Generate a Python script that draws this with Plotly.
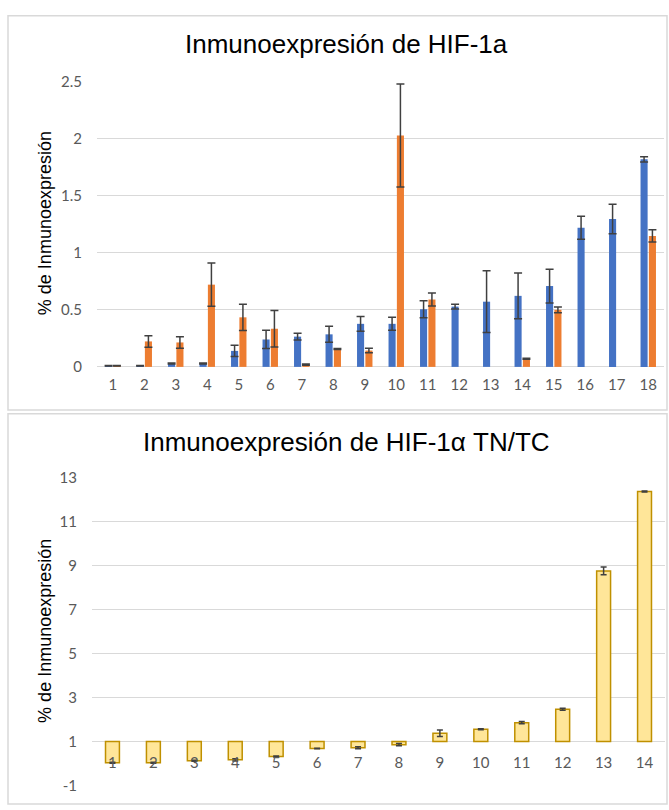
import plotly.graph_objects as go

W, H = 669, 810

# ---------------- data ----------------
cats_top = ["1", "2", "3", "4", "5", "6", "7", "8", "9", "10", "11", "12", "13", "14", "15", "16", "17", "18"]
blue_vals = [0.01, 0.01, 0.03, 0.03, 0.14, 0.24, 0.265, 0.285, 0.377, 0.377, 0.505, 0.528, 0.571, 0.622, 0.708, 1.218, 1.295, 1.818]
blue_err = [0.003, 0.003, 0.005, 0.005, 0.05, 0.08, 0.03, 0.07, 0.065, 0.057, 0.075, 0.02, 0.27, 0.2, 0.148, 0.1, 0.13, 0.023]
orange_vals = [0.01, 0.223, 0.214, 0.72, 0.434, 0.334, 0.02, 0.157, 0.143, 2.026, 0.59, None, None, 0.071, 0.5, None, None, 1.147]
orange_err = [0.003, 0.05, 0.05, 0.19, 0.115, 0.16, 0.005, 0.005, 0.02, 0.45, 0.057, None, None, 0.005, 0.025, None, None, 0.054]

cats_bot = ["1", "2", "3", "4", "5", "6", "7", "8", "9", "10", "11", "12", "13", "14"]
tn_tc_vals = [0.03, 0.03, 0.12, 0.16, 0.31, 0.68, 0.71, 0.85, 1.37, 1.55, 1.85, 2.46, 8.75, 12.36]
tn_tc_err = [0.02, 0.02, 0.02, 0.05, 0.02, 0.01, 0.05, 0.05, 0.15, 0.02, 0.05, 0.05, 0.18, 0.02]
bot_baseline = 1

title_top = "Inmunoexpresión de HIF-1a"
title_bot = "Inmunoexpresión de HIF-1α TN/TC"
y_title = "% de Inmunoexpresión"
top_ticks = [0, 0.5, 1, 1.5, 2, 2.5]
top_ticktext = ["0", "0.5", "1", "1.5", "2", "2.5"]
bot_ticks = [-1, 1, 3, 5, 7, 9, 11, 13]
bot_ticktext = ["-1", "1", "3", "5", "7", "9", "11", "13"]

# ---------------- helpers ----------------
def px_x(x):
    return x / W

def px_y(y):
    return 1 - y / H

TICK_FONT = dict(family="Lato, Open Sans, sans-serif", size=15, color="#595959")
GRID = "#D9D9D9"
ERR_COLOR = "#404040"

top_dom_y = [px_y(365), px_y(73)]
top_dom_x = [px_x(97), px_x(664)]
bot_dom_y = [px_y(793), px_y(478)]
bot_dom_x = [px_x(92), px_x(665)]
bot_range = [-1, 13]

fig = go.Figure()

fig.add_trace(go.Bar(
    x=cats_top, y=blue_vals, marker=dict(color="#4472C4", line=dict(width=0)),
    error_y=dict(type="data", array=blue_err, color=ERR_COLOR, thickness=1.5, width=4),
    xaxis="x", yaxis="y", name="A", showlegend=False,
))
fig.add_trace(go.Bar(
    x=cats_top, y=orange_vals, marker=dict(color="#ED7D31", line=dict(width=0)),
    error_y=dict(type="data", array=orange_err, color=ERR_COLOR, thickness=1.5, width=4),
    xaxis="x", yaxis="y", name="B", showlegend=False,
))

fig.add_trace(go.Bar(
    x=cats_bot, y=[v - bot_baseline for v in tn_tc_vals], base=bot_baseline,
    width=0.34,
    marker=dict(color="#FFE699", line=dict(color="#BF9000", width=1.5)),
    error_y=dict(type="data", array=tn_tc_err, color=ERR_COLOR, thickness=1.5, width=3),
    xaxis="x2", yaxis="y2", showlegend=False,
))

# x-axis position of the bottom chart (crosses at y = 1)
bot_axis_pos = bot_dom_y[0] + (bot_baseline - bot_range[0]) / (bot_range[1] - bot_range[0]) * (bot_dom_y[1] - bot_dom_y[0])

fig.update_layout(
    width=W, height=H,
    margin=dict(l=0, r=0, t=0, b=0),
    paper_bgcolor="white", plot_bgcolor="white",
    barmode="group", bargap=0.47, bargroupgap=0.15,
    xaxis=dict(domain=top_dom_x, anchor="y", type="category", showgrid=False, showline=False,
               zeroline=False, ticks="", tickfont=TICK_FONT, ticklabelstandoff=7),
    yaxis=dict(domain=top_dom_y, anchor="x", range=[0, 2.5], tickvals=top_ticks, ticktext=top_ticktext,
               showgrid=True, gridcolor=GRID, gridwidth=1.2, zeroline=True, zerolinecolor=GRID,
               zerolinewidth=1.2, showline=False, ticks="", tickfont=TICK_FONT, ticklabelstandoff=14),
    xaxis2=dict(domain=bot_dom_x, anchor="free", position=bot_axis_pos, type="category",
                showgrid=False, showline=False, zeroline=False, ticks="", tickfont=TICK_FONT,
                ticklabelstandoff=11),
    yaxis2=dict(domain=bot_dom_y, anchor="x2", range=bot_range, tickvals=bot_ticks, ticktext=bot_ticktext,
                showgrid=True, gridcolor=GRID, gridwidth=1.2, zeroline=False, showline=False,
                ticks="", tickfont=TICK_FONT, ticklabelstandoff=14),
    font=dict(family="Liberation Sans, Arial, sans-serif"),
)

annotations = [
    dict(text=title_top, x=px_x(346), y=px_y(35), xref="paper", yref="paper", showarrow=False,
         font=dict(family="Liberation Sans, Arial, sans-serif", size=26, color="#000000"),
         xanchor="center", yanchor="middle"),
    dict(text=title_bot, x=px_x(346), y=px_y(442), xref="paper", yref="paper", showarrow=False,
         font=dict(family="Liberation Sans, Arial, sans-serif", size=26, color="#000000"),
         xanchor="center", yanchor="middle"),
    dict(text=y_title, x=px_x(45), y=px_y(218), xref="paper", yref="paper", showarrow=False,
         textangle=-90, font=dict(family="Liberation Sans, Arial, sans-serif", size=18, color="#000000"),
         xanchor="center", yanchor="middle"),
    dict(text=y_title, x=px_x(45), y=px_y(635), xref="paper", yref="paper", showarrow=False,
         textangle=-90, font=dict(family="Liberation Sans, Arial, sans-serif", size=18, color="#000000"),
         xanchor="center", yanchor="middle"),
]
fig.update_layout(annotations=annotations)

shapes = [
    dict(type="rect", xref="paper", yref="paper", x0=px_x(8), x1=px_x(667), y0=px_y(409), y1=px_y(6),
         line=dict(color="#D9D9D9", width=1.5), fillcolor="rgba(0,0,0,0)", layer="below"),
    dict(type="rect", xref="paper", yref="paper", x0=px_x(8), x1=px_x(667), y0=px_y(812), y1=px_y(413),
         line=dict(color="#D9D9D9", width=1.5), fillcolor="rgba(0,0,0,0)", layer="below"),
]
fig.update_layout(shapes=shapes)

fig.write_html("out.html", config={"displayModeBar": False},
               post_script="document.body.style.margin='0';document.body.style.overflow='hidden';")
